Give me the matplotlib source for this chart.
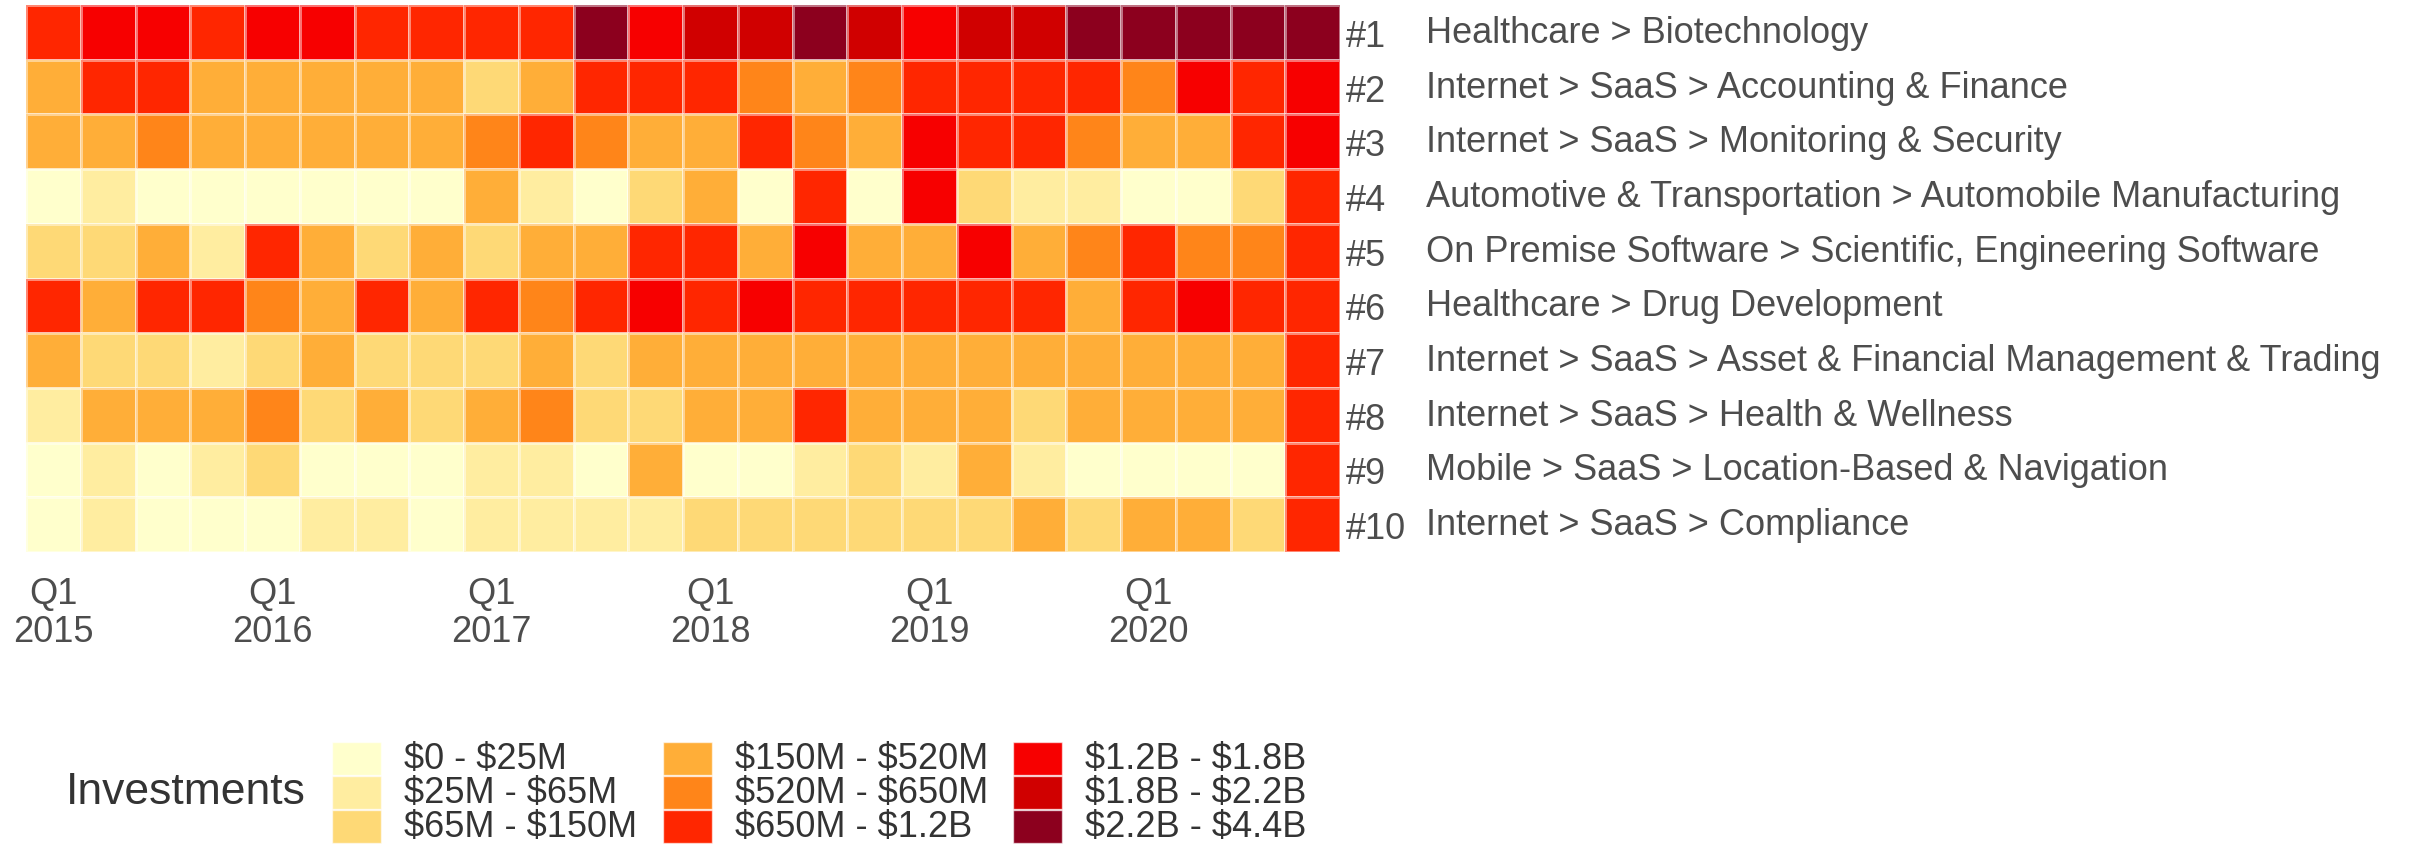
import numpy as np
import matplotlib
matplotlib.use("Agg")
import matplotlib.pyplot as plt
from matplotlib.colors import ListedColormap, BoundaryNorm
from matplotlib.patches import Rectangle
from matplotlib.transforms import blended_transform_factory

plt.rcParams['font.family'] = ['Liberation Sans', 'DejaVu Sans']

# quarters 2015Q1 .. 2020Q4
years = [2015, 2016, 2017, 2018, 2019, 2020]
quarters = [f"{y}Q{q}" for y in years for q in range(1, 5)]

categories = [
    "Healthcare > Biotechnology",
    "Internet > SaaS > Accounting & Finance",
    "Internet > SaaS > Monitoring & Security",
    "Automotive & Transportation > Automobile Manufacturing",
    "On Premise Software > Scientific, Engineering Software",
    "Healthcare > Drug Development",
    "Internet > SaaS > Asset & Financial Management & Trading",
    "Internet > SaaS > Health & Wellness",
    "Mobile > SaaS > Location-Based & Navigation",
    "Internet > SaaS > Compliance",
]

bin_labels = ["$0 - $25M", "$25M - $65M", "$65M - $150M",
              "$150M - $520M", "$520M - $650M", "$650M - $1.2B",
              "$1.2B - $1.8B", "$1.8B - $2.2B", "$2.2B - $4.4B"]
bin_colors = ["#FFFFCC", "#FFEDA0", "#FED976",
              "#FFAE38", "#FF8519", "#FF2600",
              "#F70000", "#D00000", "#8C001E"]

# investment bin (index into bin_labels) per category and quarter
levels = [
    [5, 6, 6, 5, 6, 6, 5, 5, 5, 5, 8, 6, 7, 7, 8, 7, 6, 7, 7, 8, 8, 8, 8, 8],
    [3, 5, 5, 3, 3, 3, 3, 3, 2, 3, 5, 5, 5, 4, 3, 4, 5, 5, 5, 5, 4, 6, 5, 6],
    [3, 3, 4, 3, 3, 3, 3, 3, 4, 5, 4, 3, 3, 5, 4, 3, 6, 5, 5, 4, 3, 3, 5, 6],
    [0, 1, 0, 0, 0, 0, 0, 0, 3, 1, 0, 2, 3, 0, 5, 0, 6, 2, 1, 1, 0, 0, 2, 5],
    [2, 2, 3, 1, 5, 3, 2, 3, 2, 3, 3, 5, 5, 3, 6, 3, 3, 6, 3, 4, 5, 4, 4, 5],
    [5, 3, 5, 5, 4, 3, 5, 3, 5, 4, 5, 6, 5, 6, 5, 5, 5, 5, 5, 3, 5, 6, 5, 5],
    [3, 2, 2, 1, 2, 3, 2, 2, 2, 3, 2, 3, 3, 3, 3, 3, 3, 3, 3, 3, 3, 3, 3, 5],
    [1, 3, 3, 3, 4, 2, 3, 2, 3, 4, 2, 2, 3, 3, 5, 3, 3, 3, 2, 3, 3, 3, 3, 5],
    [0, 1, 0, 1, 2, 0, 0, 0, 1, 1, 0, 3, 0, 0, 1, 2, 1, 3, 1, 0, 0, 0, 0, 5],
    [0, 1, 0, 0, 0, 1, 1, 0, 1, 1, 1, 1, 2, 2, 2, 2, 2, 2, 3, 2, 3, 3, 2, 5],
]

text_color = "#4D4D4D"
W, H = 2420, 845

fig = plt.figure(figsize=(W / 100, H / 100), dpi=100)
ax = fig.add_axes([26 / W, 1 - 553 / H, 1314 / W, 547 / H])

data = np.array(levels)
cmap = ListedColormap(bin_colors)
norm = BoundaryNorm(np.arange(len(bin_colors) + 1) - 0.5, cmap.N)
ax.pcolormesh(np.arange(len(quarters) + 1), np.arange(len(categories) + 1), data,
              cmap=cmap, norm=norm, edgecolors=(1, 1, 1, 0.45), linewidth=1.0)
ax.set_xlim(0, len(quarters))
ax.set_ylim(len(categories), 0)
for s in ax.spines.values():
    s.set_visible(False)

# x ticks on Q1 of each year
q1_idx = [i for i, q in enumerate(quarters) if q.endswith("Q1")]
ax.set_xticks([i + 0.5 for i in q1_idx])
ax.set_xticklabels([f"Q1\n{quarters[i][:4]}" for i in q1_idx],
                   fontsize=26, color=text_color, linespacing=1.12)
ax.tick_params(axis="x", length=0, pad=17)

# ranks on the right, category names next to them
ax.yaxis.tick_right()
ax.set_yticks(np.arange(len(categories)) + 0.5)
ax.set_yticklabels([f"#{i + 1}" for i in range(len(categories))],
                   fontsize=26, color=text_color)
ax.tick_params(axis="y", length=0, pad=4)
trans = blended_transform_factory(fig.transFigure, ax.transData)
for i, name in enumerate(categories):
    ax.text(1426 / W, i + 0.5, name, transform=trans, fontsize=26,
            color=text_color, ha="left", va="center")

# legend, three columns of three
fig.text(66 / W, 1 - 793 / H, "Investments", fontsize=32, color="#333333",
         ha="left", va="center")
col_x = [332, 663, 1013]
for k, (lab, col) in enumerate(zip(bin_labels, bin_colors)):
    c, r = divmod(k, 3)
    y_top = 743 + r * 34
    fig.add_artist(Rectangle((col_x[c] / W, 1 - (y_top + 33) / H), 49 / W, 33 / H,
                             transform=fig.transFigure, facecolor=col,
                             edgecolor=(1, 1, 1, 0.6), linewidth=1.0))
    fig.text((col_x[c] + 72) / W, 1 - (y_top + 17) / H, lab, fontsize=26,
             color="#333333", ha="left", va="center", parse_math=False)

fig.savefig("out.png", dpi=100)
